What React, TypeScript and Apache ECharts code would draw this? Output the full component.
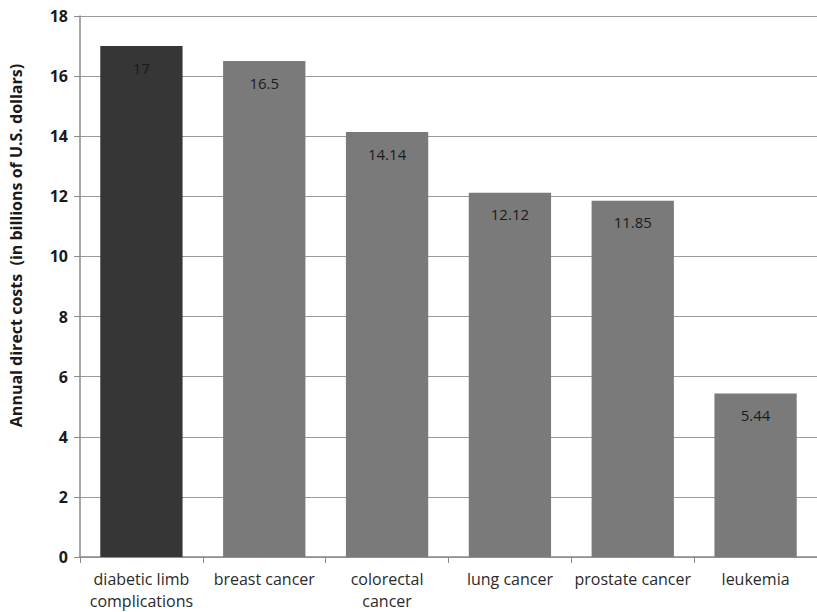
import React, { useEffect, useRef } from "react";
import * as echarts from "echarts";

const categories = [
  "diabetic limb\ncomplications",
  "breast cancer",
  "colorectal\ncancer",
  "lung cancer",
  "prostate cancer",
  "leukemia",
];
const values = [17, 16.5, 14.14, 12.12, 11.85, 5.44];
const barColors = ["#363636", "#7a7a7a", "#7a7a7a", "#7a7a7a", "#7a7a7a", "#7a7a7a"];
const yTicks = { min: 0, max: 18, interval: 2 };

export default function App() {
  const ref = useRef<HTMLDivElement>(null);
  useEffect(() => {
    if (!ref.current) return;
    const chart = echarts.init(ref.current, undefined, { renderer: "svg" });
    chart.setOption({
      animation: false,
      backgroundColor: "#ffffff",
      textStyle: { fontFamily: "Open Sans" },
      grid: { left: 79, top: 16, width: 747, height: 542 },
      xAxis: {
        type: "category",
        data: categories,
        axisLine: { lineStyle: { color: "#8a8a8a", width: 1.5 } },
        axisTick: { show: true, length: 6, lineStyle: { color: "#8a8a8a" } },
        axisLabel: { color: "#2a2a2a", fontSize: 16, margin: 11, lineHeight: 22, interval: 0 },
      },
      yAxis: {
        type: "value",
        min: yTicks.min,
        max: yTicks.max,
        interval: yTicks.interval,
        name: "Annual direct costs  (in billions of U.S. dollars)",
        nameLocation: "middle",
        nameGap: 56,
        nameTextStyle: {
          color: "#1a1a1a",
          fontSize: 16,
          fontWeight: "bold",
          padding: [0, 0, 0, 82],
        },
        axisLine: { show: true, lineStyle: { color: "#8a8a8a", width: 1.5 } },
        axisTick: { show: true, length: 6, inside: false, lineStyle: { color: "#8a8a8a" } },
        axisLabel: { color: "#1a1a1a", fontSize: 16, fontWeight: "bold", margin: 12 },
        splitLine: { lineStyle: { color: "#9a9a9a", width: 1.2 } },
      },
      series: [
        {
          type: "bar",
          data: values.map((v, i) => ({ value: v, itemStyle: { color: barColors[i] } })),
          barCategoryGap: "33%",
          label: {
            show: true,
            position: "insideTop",
            distance: 14,
            color: "#1a1a1a",
            fontSize: 15,
          },
        },
      ],
    });
    return () => chart.dispose();
  }, []);
  return (
    <div
      ref={ref}
      style={{ position: "fixed", left: 0, top: 0, width: 817, height: 612 }}
    />
  );
}
